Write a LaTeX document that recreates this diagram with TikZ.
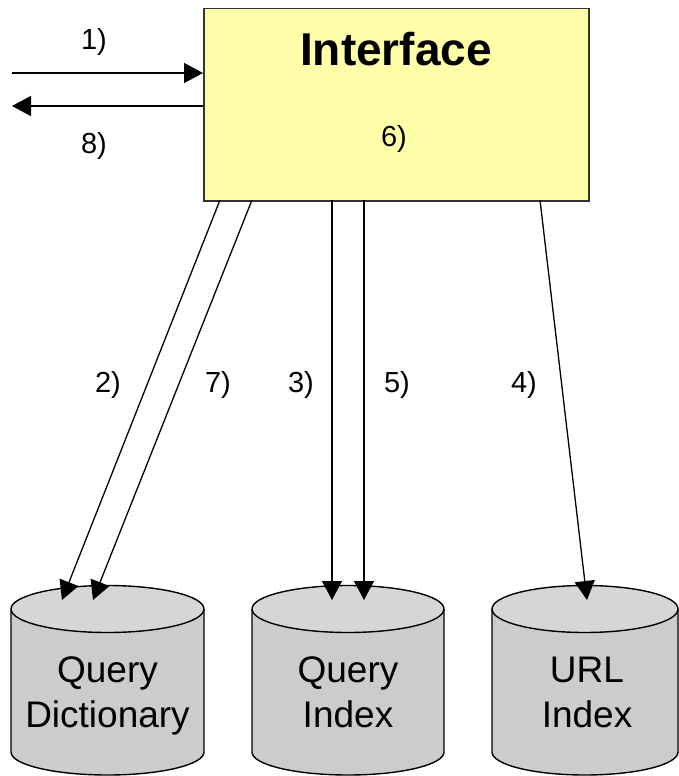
\documentclass[tikz,border=0pt]{standalone}
\usepackage{fontspec}
\setmainfont{Liberation Sans}
\usetikzlibrary{arrows.meta}
\definecolor{boxyellow}{HTML}{FFFFAA}
\definecolor{cyltop}{HTML}{D6D6D6}
\definecolor{cylbody}{HTML}{CCCCCC}
\tikzset{
  link/.style={line width=1.3pt, -{Triangle[length=19pt,width=20pt]}},
  lbl/.style={font=\fontsize{29}{34}\selectfont, anchor=base, inner sep=0pt},
  cyllbl/.style={font=\fontsize{37}{45}\selectfont, align=center, anchor=base, inner sep=0pt},
  cylline/.style={line width=1.4pt, draw=black},
}
\newcommand{\dbdrum}[2]{%
  \fill[cylbody] (#1-#2,609) -- (#1-#2,752) arc[start angle=180,end angle=360,x radius=#2pt,y radius=23pt] -- (#1+#2,609) -- cycle;
  \draw[cylline] (#1-#2,609) -- (#1-#2,752) arc[start angle=180,end angle=360,x radius=#2pt,y radius=23pt] -- (#1+#2,609);
  \draw[cylline, fill=cyltop] (#1,609) ellipse[x radius=#2pt, y radius=23.5pt];
}
\begin{document}
\begin{tikzpicture}[x=1pt,y=-1pt]
\useasboundingbox (0,0) rectangle (679,776);

% interface box
\node[draw=black!80, line width=1.5pt, fill=boxyellow, minimum width=385pt, minimum height=192pt, anchor=north west, inner sep=0pt] (iface) at (203,8) {};
\node[font=\fontsize{46}{50}\selectfont\bfseries, anchor=base, inner sep=0pt] (ititle) at (396,66) {Interface};
\node[lbl] (l6) at (394,146) {6)};

% databases
\dbdrum{107.5}{96.5}
\dbdrum{348}{96}
\dbdrum{585}{93}
\node[cyllbl] (qdict) at (107.5,727) {Query\\Dictionary};
\node[cyllbl] (qidx) at (348,727) {Query\\Index};
\node[cyllbl] (uidx) at (587,727) {URL\\Index};

% coordinates
\coordinate (in1) at (12,73);
\coordinate (b1) at (203,73);
\coordinate (b8) at (203,106);
\coordinate (out8) at (12,106);
\coordinate (s2) at (220,200);
\coordinate (t2) at (62,600);
\coordinate (s7) at (252,200);
\coordinate (t7) at (93,600);
\coordinate (s3) at (332,200);
\coordinate (t3) at (332,600);
\coordinate (s5) at (364,200);
\coordinate (t5) at (364,600);
\coordinate (s4) at (540,200);
\coordinate (t4) at (587,600);

\draw[link] (in1) -- (b1);
\draw[link] (b8) -- (out8);
\draw[link] (s2) -- (t2);
\draw[link] (s7) -- (t7);
\draw[link] (s3) -- (t3);
\draw[link] (s5) -- (t5);
\draw[link] (s4) -- (t4);

% labels
\node[lbl] (l1) at (94,50) {1)};
\node[lbl] (l8) at (94,153) {8)};
\node[lbl] (l2) at (108,392) {2)};
\node[lbl] (l7) at (218,392) {7)};
\node[lbl] (l3) at (301,392) {3)};
\node[lbl] (l5) at (397,392) {5)};
\node[lbl] (l4) at (524,392) {4)};
\end{tikzpicture}
\end{document}
